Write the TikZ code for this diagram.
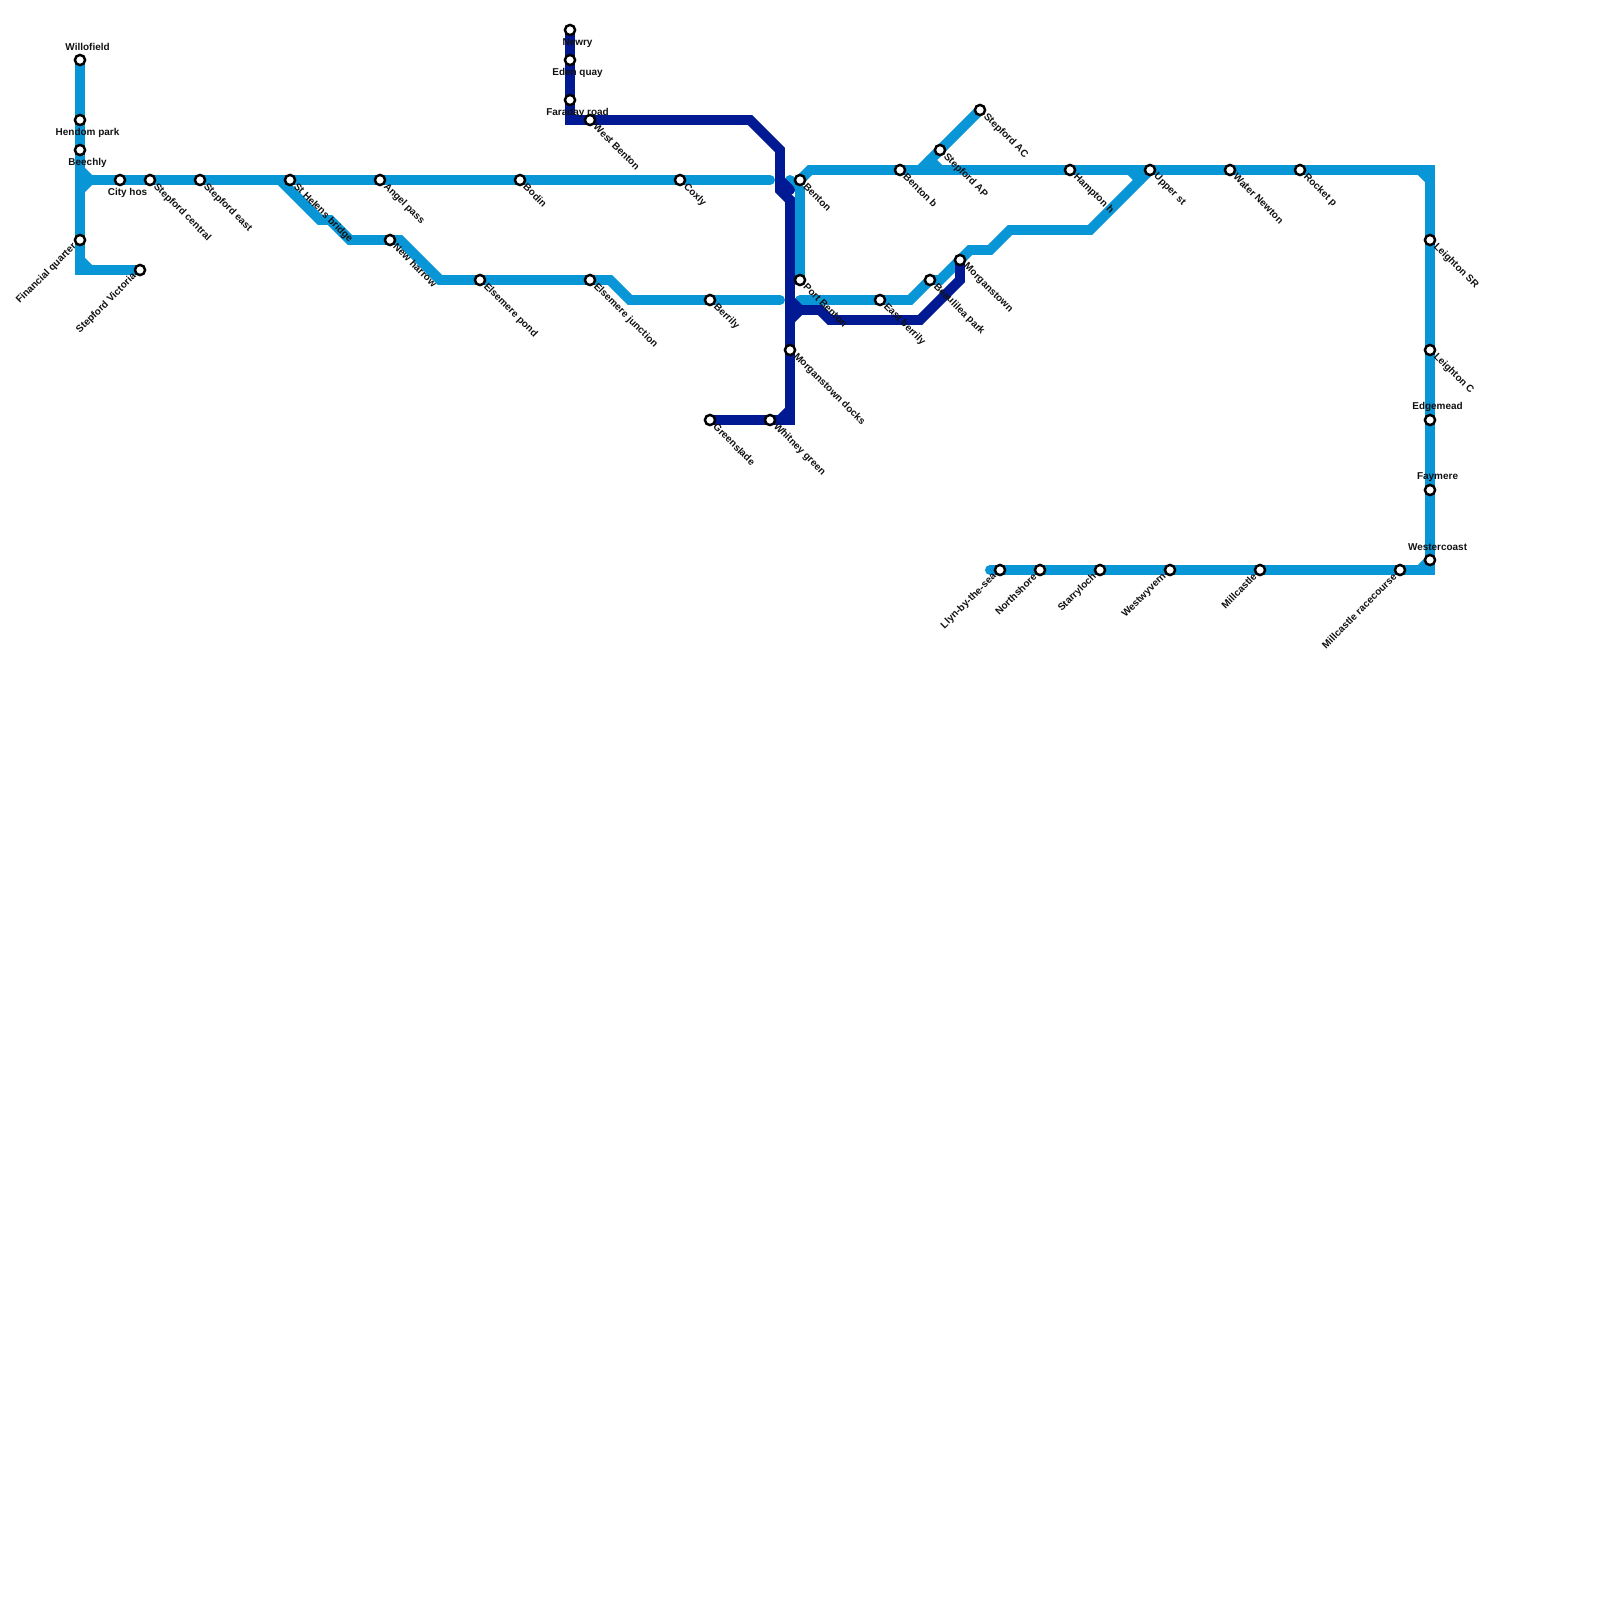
\documentclass[tikz,border=0pt]{standalone}
\usepackage{fontspec}
\setmainfont{Liberation Sans}
\usepackage{xcolor}
\usepackage{tikz}
\definecolor{skyline}{HTML}{0896D7}
\definecolor{navyline}{HTML}{011A93}
\definecolor{ink}{HTML}{111111}
\pgfdeclarelayer{lines}
\pgfsetlayers{lines,main}

\begin{document}
\begin{tikzpicture}[
    x=0.02cm,y=-0.02cm,
    stop/.style={circle,draw=black,fill=white,line width=1.4pt,minimum size=5.8pt,inner sep=0pt},
    txt/.style={inner sep=0pt,text=ink,font=\fontsize{5.67}{6}\selectfont\bfseries},
    txtse/.style={txt,anchor=west,rotate=-45,xshift=4pt},
    txtne/.style={txt,anchor=east,rotate=45,xshift=-4pt},
    txtup/.style={txt,xshift=4.3pt,yshift=7.4pt},
    txtdn/.style={txt,xshift=4.3pt,yshift=-7.2pt},
    sky/.style={draw=skyline,line width=5.67pt,line cap=round,line join=miter},
    navy/.style={draw=navyline,line width=5.67pt,line cap=round,line join=miter}
  ]
    \useasboundingbox (0,0) rectangle (1600,1600);
    % west end
    \node[stop] (willofield) at (80,60) {};
    \node[txtup] (willofieldtxt) at (willofield) {Willofield};
    \node[stop] (hendom) at (80,120) {};
    \node[txtdn] (hendomtxt) at (hendom) {Hendom park};
    \node[stop] (beechly) at (80,150) {};
    \node[txtdn] (beechlytxt) at (beechly) {Beechly};
    \node[stop] (financial) at (80,240) {};
    \node[txtne] (financialtxt) at (financial) {Financial quarter};
    \node[stop] (victoria) at (140,270) {};
    \node[txtne] (victoriatxt) at (victoria) {Stepford Victoria};
    \node[stop] (cityhos) at (120,180) {};
    \node[txtdn] (cityhostxt) at (cityhos) {City hos};
    \node[stop] (central) at (150,180) {};
    \node[txtse] (centraltxt) at (central) {Stepford central};
    \node[stop] (east) at (200,180) {};
    \node[txtse] (easttxt) at (east) {Stepford east};
    \node[stop] (sthelens) at (290,180) {};
    \node[txtse] (sthelenstxt) at (sthelens) {St Helens bridge};
    \node[stop] (angel) at (380,180) {};
    \node[txtse] (angeltxt) at (angel) {Angel pass};
    \node[stop] (bodin) at (520,180) {};
    \node[txtse] (bodintxt) at (bodin) {Bodin};
    \node[stop] (coxly) at (680,180) {};
    \node[txtse] (coxlytxt) at (coxly) {Coxly};
    \node[stop] (newharrow) at (390,240) {};
    \node[txtse] (newharrowtxt) at (newharrow) {New harrow};
    \node[stop] (pond) at (480,280) {};
    \node[txtse] (pondtxt) at (pond) {Elsemere pond};
    \node[stop] (junction) at (590,280) {};
    \node[txtse] (junctiontxt) at (junction) {Elsemere junction};
    \node[stop] (berrily) at (710,300) {};
    \node[txtse] (berrilytxt) at (berrily) {Berrily};
    % north and middle
    \node[stop] (newry) at (570,30) {};
    \node[txtdn] (newrytxt) at (newry) {Newry};
    \node[stop] (eden) at (570,60) {};
    \node[txtdn] (edentxt) at (eden) {Eden quay};
    \node[stop] (faraday) at (570,100) {};
    \node[txtdn] (faradaytxt) at (faraday) {Faraday road};
    \node[stop] (westbenton) at (590,120) {};
    \node[txtse] (westbentontxt) at (westbenton) {West Benton};
    \node[stop] (benton) at (800,180) {};
    \node[txtse] (bentontxt) at (benton) {Benton};
    \node[stop] (portbenton) at (800,280) {};
    \node[txtse] (portbentontxt) at (portbenton) {Port Benton};
    \node[stop] (docks) at (790,350) {};
    \node[txtse] (dockstxt) at (docks) {Morganstown docks};
    \node[stop] (greenslade) at (710,420) {};
    \node[txtse] (greensladetxt) at (greenslade) {Greenslade};
    \node[stop] (whitney) at (770,420) {};
    \node[txtse] (whitneytxt) at (whitney) {Whitney green};
    \node[stop] (eastberrily) at (880,300) {};
    \node[txtse] (eastberrilytxt) at (eastberrily) {East berrily};
    \node[stop] (beaulilea) at (930,280) {};
    \node[txtse] (beauliteatxt) at (beaulilea) {Beaulilea park};
    \node[stop] (morganstown) at (960,260) {};
    \node[txtse] (morganstowntxt) at (morganstown) {Morganstown};
    % top row
    \node[stop] (bentonb) at (900,170) {};
    \node[txtse] (bentonbtxt) at (bentonb) {Benton b};
    \node[stop] (stepfordap) at (940,150) {};
    \node[txtse] (stepfordaptxt) at (stepfordap) {Stepford AP};
    \node[stop] (stepfordac) at (980,110) {};
    \node[txtse] (stepfordactxt) at (stepfordac) {Stepford AC};
    \node[stop] (hampton) at (1070,170) {};
    \node[txtse] (hamptontxt) at (hampton) {Hampton h};
    \node[stop] (upper) at (1150,170) {};
    \node[txtse] (uppertxt) at (upper) {Upper st};
    \node[stop] (waternewton) at (1230,170) {};
    \node[txtse] (waternewtontxt) at (waternewton) {Water Newton};
    \node[stop] (rocket) at (1300,170) {};
    \node[txtse] (rockettxt) at (rocket) {Rocket p};
    % east side and south row
    \node[stop] (leightonsr) at (1430,240) {};
    \node[txtse] (leightonsrtxt) at (leightonsr) {Leighton SR};
    \node[stop] (leightonc) at (1430,350) {};
    \node[txtse] (leightonctxt) at (leightonc) {Leighton C};
    \node[stop] (edgemead) at (1430,420) {};
    \node[txtup] (edgemeadtxt) at (edgemead) {Edgemead};
    \node[stop] (faymere) at (1430,490) {};
    \node[txtup] (faymeretxt) at (faymere) {Faymere};
    \node[stop] (westercoast) at (1430,560) {};
    \node[txtup] (westercoasttxt) at (westercoast) {Westercoast};
    \node[stop] (racecourse) at (1400,570) {};
    \node[txtne] (racecoursetxt) at (racecourse) {Millcastle racecourse};
    \node[stop] (millcastle) at (1260,570) {};
    \node[txtne] (millcastletxt) at (millcastle) {Millcastle};
    \node[stop] (westwyvern) at (1170,570) {};
    \node[txtne] (westwyverntxt) at (westwyvern) {Westwyvern};
    \node[stop] (starryloch) at (1100,570) {};
    \node[txtne] (starrylochtxt) at (starryloch) {Starryloch};
    \node[stop] (northshore) at (1040,570) {};
    \node[txtne] (northshoretxt) at (northshore) {Northshore};
    \node[stop] (llyn) at (1000,570) {};
    \node[txtne] (llyntxt) at (llyn) {Llyn-by-the-sea};
    % bends
    \coordinate (w1) at (80,170);
    \coordinate (w2) at (90,180);
    \coordinate (w3) at (80,190);
    \coordinate (w4) at (80,260);
    \coordinate (w5) at (80,270);
    \coordinate (w6) at (90,270);
    \coordinate (c1) at (770,180);
    \coordinate (s1) at (280,180);
    \coordinate (s2) at (320,220);
    \coordinate (s3) at (330,220);
    \coordinate (s4) at (350,240);
    \coordinate (s5) at (400,240);
    \coordinate (s6) at (440,280);
    \coordinate (s7) at (610,280);
    \coordinate (s8) at (630,300);
    \coordinate (s9) at (780,300);
    \coordinate (b1) at (790,180);
    \coordinate (b2) at (800,190);
    \coordinate (b3) at (810,170);
    \coordinate (e1) at (1420,170);
    \coordinate (e2) at (1430,170);
    \coordinate (e3) at (1430,180);
    \coordinate (e4) at (1430,570);
    \coordinate (e5) at (1420,570);
    \coordinate (e6) at (990,570);
    \coordinate (m1) at (800,300);
    \coordinate (m2) at (910,300);
    \coordinate (m3) at (940,280);
    \coordinate (m4) at (970,250);
    \coordinate (m5) at (990,250);
    \coordinate (m6) at (1010,230);
    \coordinate (m7) at (1090,230);
    \coordinate (m8) at (1130,170);
    \coordinate (m9) at (1140,180);
    \coordinate (a1) at (920,170);
    \coordinate (a2) at (930,160);
    \coordinate (a3) at (940,170);
    \coordinate (n1) at (570,120);
    \coordinate (n2) at (750,120);
    \coordinate (n3) at (780,150);
    \coordinate (n4) at (780,190);
    \coordinate (n5) at (790,200);
    \coordinate (n6) at (780,180);
    \coordinate (n7) at (790,190);
    \coordinate (n8) at (790,420);
    \coordinate (n9) at (780,420);
    \coordinate (n10) at (790,410);
    \coordinate (r1) at (790,300);
    \coordinate (r2) at (800,310);
    \coordinate (r3) at (790,320);
    \coordinate (r4) at (820,310);
    \coordinate (r5) at (830,320);
    \coordinate (r6) at (920,320);
    \coordinate (r7) at (960,280);
    \begin{pgfonlayer}{lines}
      \draw[sky] (willofield.center) -- (hendom.center) -- (beechly.center) -- (financial.center) -- (w5) -- (victoria.center);
      \draw[sky] (w1) -- (w2) -- (w3);
      \draw[sky] (w4) -- (w6);
      \draw[sky] (w2) -- (cityhos.center) -- (central.center) -- (east.center) -- (sthelens.center) -- (angel.center) -- (bodin.center) -- (coxly.center) -- (c1);
      \draw[sky] (s1) -- (s2) -- (s3) -- (s4) -- (newharrow.center) -- (s5) -- (s6) -- (pond.center) -- (junction.center) -- (s7) -- (s8) -- (berrily.center) -- (s9);
      \draw[sky] (b1) -- (b2) -- (portbenton.center);
      \draw[sky] (benton.center) -- (b3) -- (bentonb.center) -- (hampton.center) -- (upper.center) -- (waternewton.center) -- (rocket.center) -- (e2) -- (leightonsr.center) -- (leightonc.center) -- (edgemead.center) -- (faymere.center) -- (westercoast.center) -- (e4) -- (racecourse.center) -- (millcastle.center) -- (westwyvern.center) -- (starryloch.center) -- (northshore.center) -- (llyn.center) -- (e6);
      \draw[sky] (e1) -- (e3);
      \draw[sky] (e5) -- (westercoast.center);
      \draw[sky] (m1) -- (eastberrily.center) -- (m2) -- (beaulilea.center) -- (m3) -- (morganstown.center) -- (m4) -- (m5) -- (m6) -- (m7) -- (upper.center);
      \draw[sky] (m8) -- (m9);
      \draw[sky] (stepfordac.center) -- (stepfordap.center) -- (a1);
      \draw[sky] (a2) -- (a3);
      \draw[navy] (newry.center) -- (eden.center) -- (faraday.center) -- (n1) -- (westbenton.center) -- (n2) -- (n3) -- (n4) -- (n5) -- (docks.center) -- (n8) -- (whitney.center) -- (greenslade.center);
      \draw[navy] (n6) -- (n7);
      \draw[navy] (n9) -- (n10);
      \draw[navy] (r1) -- (r2) -- (r4) -- (r5) -- (r6) -- (r7) -- (morganstown.center);
      \draw[navy] (r3) -- (r2);
    \end{pgfonlayer}
  \end{tikzpicture}
\end{document}
